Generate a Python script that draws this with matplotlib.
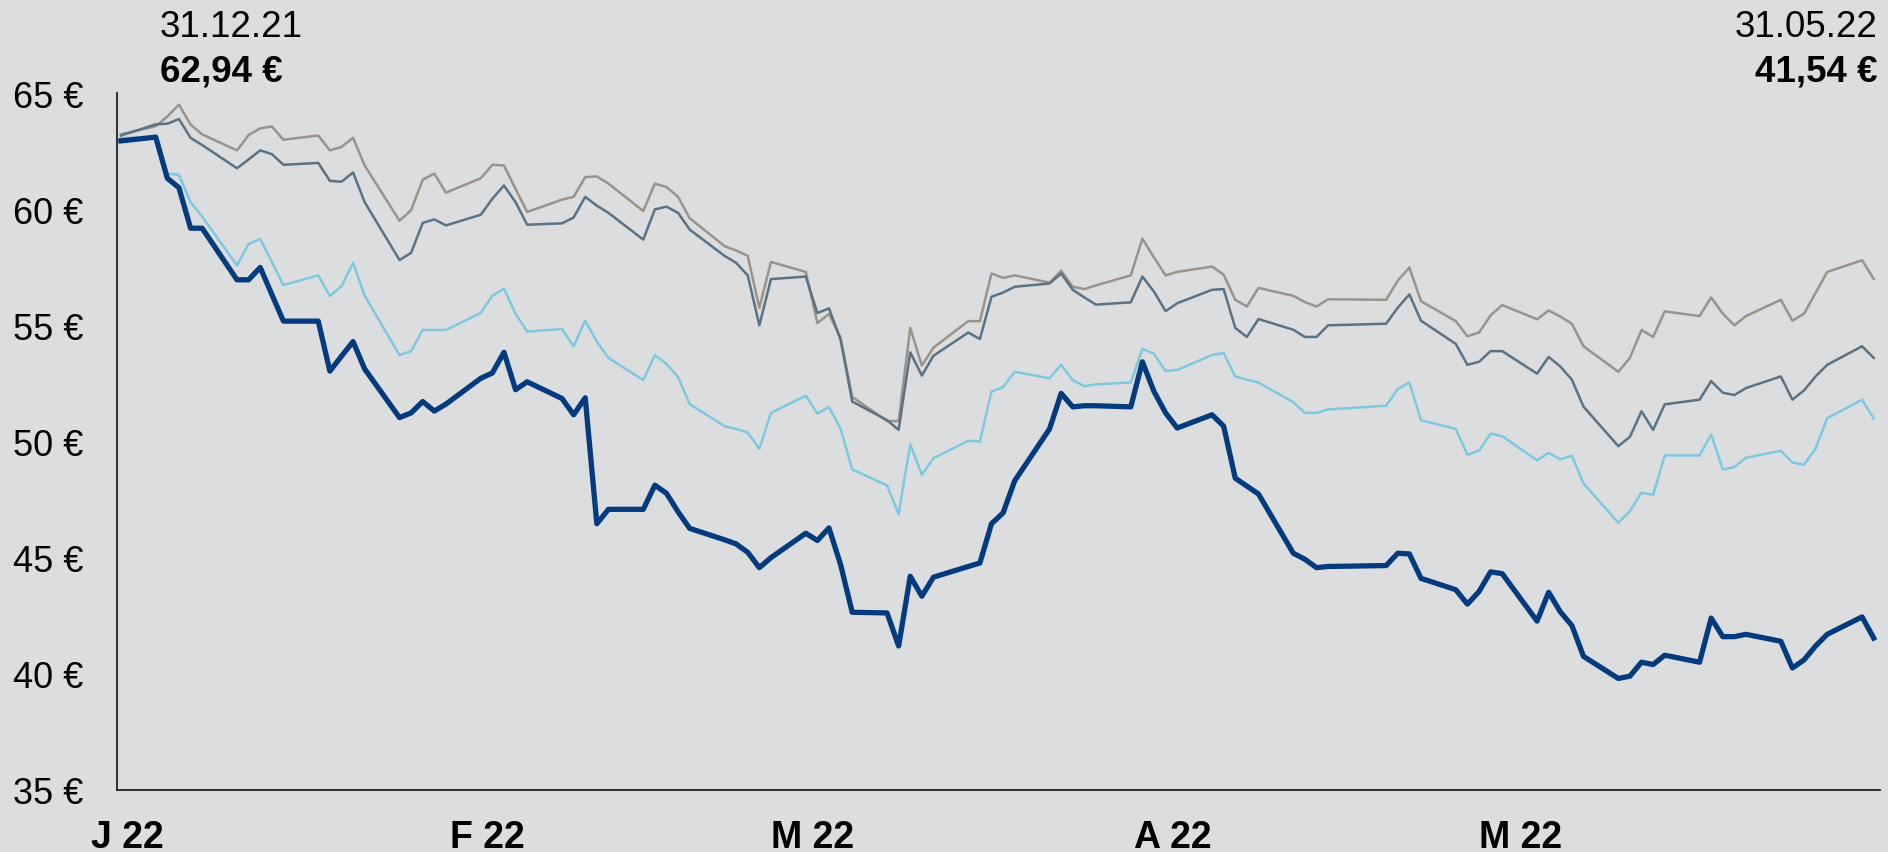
import pandas as pd
import matplotlib
matplotlib.use('Agg')
from matplotlib import pyplot as plt

plt.rcParams['font.family'] = ['Liberation Sans', 'DejaVu Sans']

# trading days 31.12.21 - 31.05.22 (Good Friday / Easter Monday closed)
dates = pd.bdate_range('2022-01-03', '2022-05-31')
dates = dates.drop([pd.Timestamp('2022-04-15'), pd.Timestamp('2022-04-18')])
dates = dates.insert(0, pd.Timestamp('2021-12-31'))

share = [62.94,
         63.1, 61.33, 60.92, 59.18, 59.18, 56.96, 56.96, 57.49, 56.33, 55.18,
         55.18, 53.03, 53.67, 54.30, 53.12, 51.03, 51.23, 51.72, 51.31, 51.61, 52.72,
         52.95, 53.84, 52.23, 52.57, 51.85, 51.15, 51.88, 46.46, 47.08,
         47.08, 48.12, 47.77, 46.97, 46.26, 45.77, 45.59, 45.23, 44.57, 45.0, 46.05,
         45.74, 46.28, 44.7, 42.65, 42.62, 41.2, 44.2, 43.34, 44.16,
         44.62, 44.77, 46.46, 46.93, 48.31, 50.54, 52.07, 51.49, 51.54, 51.54,
         51.49, 53.43, 52.15, 51.23,
         50.58, 51.15, 50.66, 48.42, 48.08, 47.74, 45.19, 44.93, 44.57, 44.62,
         44.66, 45.19, 45.16, 44.11, 43.62, 43.0, 43.54, 44.39, 44.31,
         42.27, 43.51, 42.67, 42.08, 40.75, 39.8, 39.9, 40.5, 40.4, 40.8,
         40.5, 42.4, 41.6, 41.6, 41.7, 41.4, 40.25, 40.6, 41.2, 41.7, 42.45, 41.54]

index_light = [63.05,
               63.1, 61.53, 61.48, 60.3, 59.68, 57.58, 58.5, 58.72, 57.73, 56.73,
               57.15, 56.26, 56.69, 57.69, 56.27, 53.72, 53.89, 54.8, 54.8, 54.8, 55.53,
               56.27, 56.58, 55.49, 54.73, 54.84, 54.1, 55.2, 54.3, 53.6,
               52.64, 53.72, 53.34, 52.77, 51.61, 50.66, 50.54, 50.38, 49.69, 51.23, 51.97,
               51.2, 51.49, 50.54, 48.8, 48.11, 46.88, 49.88, 48.57, 49.28,
               50.03, 50.0, 52.15, 52.34, 53.0, 52.72, 53.3, 52.64, 52.38, 52.46,
               52.54, 53.99, 53.77, 53.03,
               53.08, 53.72, 53.81, 52.8, 52.66, 52.54, 51.69, 51.23, 51.23, 51.38,
               51.54, 52.26, 52.54, 50.92, 50.54, 49.43, 49.61, 50.34, 50.23,
               49.19, 49.51, 49.23, 49.39, 48.2, 46.5, 47.0, 47.8, 47.7, 49.4,
               49.4, 50.3, 48.8, 48.9, 49.3, 49.6, 49.1, 49.0, 49.7, 51.0, 51.8, 51.0]

index_slate = [63.17,
               63.65, 63.68, 63.88, 63.07, 62.76, 61.76, 62.14, 62.53, 62.37, 61.91,
               61.99, 61.22, 61.18, 61.58, 60.3, 57.81, 58.12, 59.41, 59.56, 59.3, 59.76,
               60.45, 61.02, 60.3, 59.33, 59.39, 59.64, 60.53, 60.15, 59.84,
               58.69, 59.99, 60.11, 59.84, 59.12, 57.99, 57.69, 57.15, 55.0, 56.99, 57.1,
               55.53, 55.73, 54.38, 51.72, 50.92, 50.5, 53.84, 52.84, 53.69,
               54.69, 54.41, 56.23, 56.41, 56.66, 56.8, 57.23, 56.53, 56.2, 55.89,
               55.99, 57.1, 56.45, 55.61,
               55.95, 56.53, 56.56, 54.89, 54.5, 55.27, 54.81, 54.5, 54.5, 55.0,
               55.07, 55.76, 56.33, 55.2, 54.2, 53.3, 53.43, 53.89, 53.89,
               52.92, 53.64, 53.23, 52.66, 51.5, 49.8, 50.2, 51.3, 50.5, 51.6,
               51.8, 52.6, 52.1, 52.0, 52.3, 52.8, 51.8, 52.2, 52.8, 53.3, 54.1, 53.6]

index_gray = [63.22,
              63.57, 63.99, 64.5, 63.64, 63.22, 62.53, 63.19, 63.48, 63.56, 62.99,
              63.17, 62.53, 62.68, 63.07, 61.88, 59.5, 59.96, 61.27, 61.53, 60.71, 61.33,
              61.91, 61.88, 60.87, 59.88, 60.41, 60.53, 61.38, 61.41, 61.1,
              59.92, 61.1, 60.95, 60.53, 59.61, 58.41, 58.22, 57.99, 55.76, 57.73, 57.3,
              55.1, 55.49, 54.46, 51.92, 50.88, 50.88, 54.89, 53.27, 54.04,
              55.18, 55.18, 57.23, 57.04, 57.15, 56.84, 57.35, 56.66, 56.56, 56.72,
              57.15, 58.73, 57.92, 57.15,
              57.3, 57.53, 57.18, 56.1, 55.81, 56.61, 56.27, 56.0, 55.81, 56.12,
              56.1, 56.92, 57.49, 56.04, 55.18, 54.53, 54.69, 55.43, 55.87,
              55.26, 55.64, 55.38, 55.07, 54.1, 53.0, 53.6, 54.8, 54.5, 55.6,
              55.4, 56.2, 55.5, 55.0, 55.4, 56.1, 55.2, 55.5, 56.4, 57.3, 57.8, 57.0]

month_ticks = ['2022-01-01', '2022-02-01', '2022-03-01', '2022-04-01', '2022-05-01']
month_labels = ['J 22', 'F 22', 'M 22', 'A 22', 'M 22']
y_ticks = [35, 40, 45, 50, 55, 60, 65]

bg = '#dcdddf'
fig = plt.figure(figsize=(18.88, 8.53), dpi=100, facecolor=bg)
ax = fig.add_axes([0.062, 0.0727, 0.934, 0.8171], facecolor=bg)

ax.plot(dates, index_gray, color='#9b938a', lw=1.8)
ax.plot(dates, index_slate, color='#5a7283', lw=1.8)
ax.plot(dates, index_light, color='#7ec8de', lw=1.8)
ax.plot(dates, share, color='#033b7e', lw=3.8)

ax.set_ylim(35, 65)
ax.set_xlim(pd.Timestamp('2021-12-31') - pd.Timedelta(hours=8),
            pd.Timestamp('2022-05-31') + pd.Timedelta(hours=14))
ax.set_yticks(y_ticks)
ax.set_yticklabels([f'{v} €' for v in y_ticks], fontsize=26)
ax.set_xticks(pd.to_datetime(month_ticks) - pd.Timedelta(hours=10))
ax.set_xticklabels(month_labels, fontsize=27, fontweight='bold')
ax.tick_params(axis='y', length=0, pad=24)
ax.tick_params(axis='x', length=0, pad=21)

for s in ['top', 'right']:
    ax.spines[s].set_visible(False)
for s in ['left', 'bottom']:
    ax.spines[s].set_linewidth(1.3)
    ax.spines[s].set_color('#222222')

# start / end annotations
fig.text(0.0847, 0.9566, '31.12.21', fontsize=26.5, ha='left', va='baseline')
fig.text(0.0847, 0.9039, '62,94 €', fontsize=26.5, fontweight='bold', ha='left', va='baseline')
fig.text(0.9947, 0.9566, '31.05.22', fontsize=26.5, ha='right', va='baseline')
fig.text(0.9947, 0.9039, '41,54 €', fontsize=26.5, fontweight='bold', ha='right', va='baseline')

plt.savefig('out.png', dpi=100, facecolor=bg)
